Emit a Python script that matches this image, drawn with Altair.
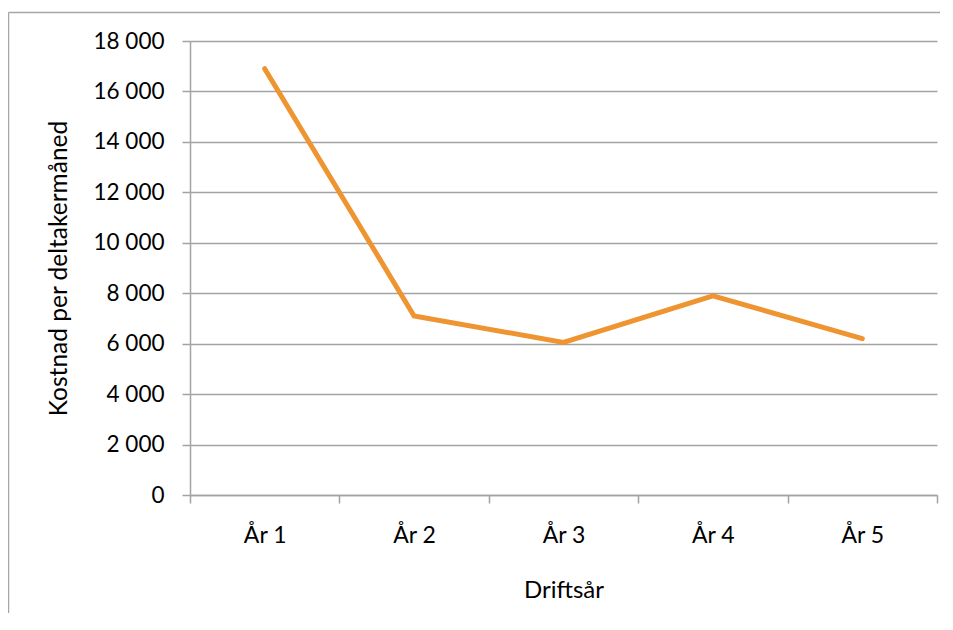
import altair as alt
import pandas as pd

years = ["År 1", "År 2", "År 3", "År 4", "År 5"]
costs = [16900, 7100, 6050, 7900, 6200]
y_ticks = [0, 2000, 4000, 6000, 8000, 10000, 12000, 14000, 16000, 18000]

df = pd.DataFrame({"year": years, "cost": costs})

W, H = 747, 454
FONT = "Lato"
GRAY = "#A3A3A3"

line = alt.Chart(df).mark_line(
    color="#EE9430", strokeWidth=5, strokeCap="round", strokeJoin="miter"
).encode(
    x=alt.X(
        "year:N",
        sort=years,
        scale=alt.Scale(type="band", paddingInner=0, paddingOuter=0),
        axis=alt.Axis(
            title="Driftsår",
            tickBand="extent",
            labelAngle=0,
            tickSize=8,
            labelPadding=21,
            labelFontSize=23,
            titleFontSize=24,
            titleFontWeight="normal",
            titleX=W / 2,
            titleY=95,
            titleBaseline="middle",
            domainColor=GRAY,
            tickColor=GRAY,
            domainWidth=1.5,
            tickWidth=1.5,
            grid=False,
        ),
    ),
    y=alt.Y(
        "cost:Q",
        scale=alt.Scale(domain=[0, 18000], nice=False),
        axis=alt.Axis(
            title="Kostnad per deltakermåned",
            values=y_ticks,
            labelExpr="replace(format(datum.value, ','), ',', ' ')",
            tickSize=8,
            labelPadding=18,
            labelFontSize=22.5,
            titleFontSize=24.5,
            titleFontWeight="normal",
            titleX=-131,
            titleY=H / 2,
            titleAngle=270,
            titleAlign="center",
            titleBaseline="middle",
            domainColor=GRAY,
            tickColor=GRAY,
            gridColor=GRAY,
            domainWidth=1.5,
            tickWidth=1.5,
            gridWidth=1.5,
        ),
    ),
)

frame = pd.DataFrame({"a": [0]})
top_border = alt.Chart(frame).mark_rule(
    stroke="#A6A6A6", strokeWidth=1.5, clip=False
).encode(
    x=alt.value(-181.5), x2=alt.value(W + 3), y=alt.value(-28.5)
)
left_border = alt.Chart(frame).mark_rule(
    stroke="#A6A6A6", strokeWidth=1.5, clip=False
).encode(
    x=alt.value(-181.5), x2=alt.value(-181.5), y=alt.value(-28.5), y2=alt.value(H + 130)
)

chart = alt.layer(top_border, left_border, line).properties(
    width=W,
    height=H,
    autosize=alt.AutoSizeParams(type="none"),
    padding={"left": 182, "top": 33, "right": 3, "bottom": 118},
    background="white",
).configure_view(stroke=None).configure_axis(
    labelFont=FONT, titleFont=FONT, labelColor="black", titleColor="black"
)

chart.save("out.html", embed_options={"renderer": "svg", "actions": False})
